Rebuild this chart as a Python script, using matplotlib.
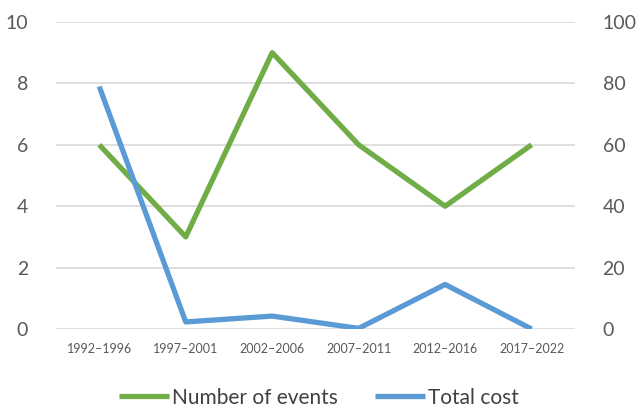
import matplotlib.pyplot as plt

periods = ['1992\u20131996', '1997\u20132001', '2002\u20132006', '2007\u20132011', '2012\u20132016', '2017\u20132022']
num_events = [6, 3, 9, 6, 4, 6]
total_cost = [79, 2.3, 4.2, 0.2, 14.5, 0]

green = '#70AD47'
blue = '#5B9BD5'
grey = '#595959'

plt.rcParams['font.family'] = ['Lato', 'DejaVu Sans']

fig = plt.figure(figsize=(6.38, 4.12), dpi=100)
ax = fig.add_axes([0.0878, 0.2015, 0.8132, 0.7451])
ax2 = ax.twinx()

x = range(len(periods))
l1, = ax.plot(x, num_events, color=green, lw=3.8, solid_capstyle='butt', label='Number of events')
l2, = ax2.plot(x, total_cost, color=blue, lw=3.8, solid_capstyle='butt', label='Total cost')

ax.set_xlim(-0.5, len(periods) - 0.5)
ax.set_ylim(0, 10)
ax2.set_ylim(0, 100)
ax.set_yticks(range(0, 11, 2))
ax2.set_yticks(range(0, 101, 20))
ax.yaxis.grid(True, color='#D9D9D9', lw=1.2)
ax.set_axisbelow(True)

ax.set_xticks(list(x))
ax.set_xticklabels(periods, fontsize=9, color=grey)
ax.tick_params(axis='y', labelsize=14, colors=grey, length=0, pad=20)
ax2.tick_params(axis='y', labelsize=14, colors=grey, length=0, pad=20)
ax.tick_params(axis='x', length=0, pad=10)

for a in (ax, ax2):
    for s in a.spines.values():
        s.set_visible(False)

fig.legend([l1, l2], ['Number of events', 'Total cost'], loc='lower center',
           bbox_to_anchor=(0.5, -0.035), ncol=2, frameon=False, fontsize=15,
           handlelength=2.4, columnspacing=1.8, handletextpad=0.15,
           labelcolor='#404040')

fig.savefig('out.png', dpi=100)
